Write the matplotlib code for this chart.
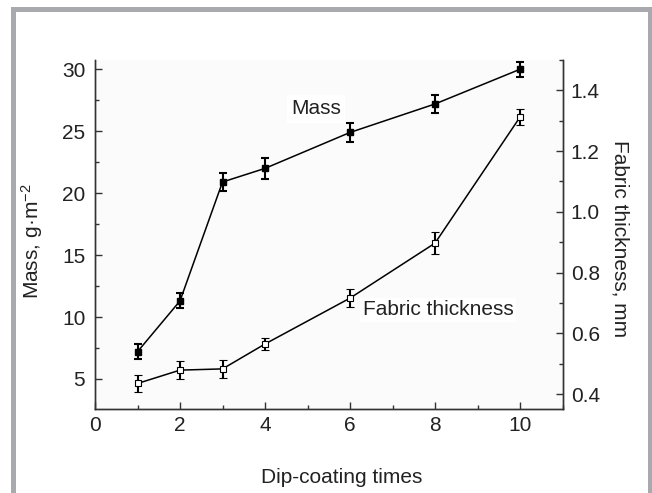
import matplotlib.pyplot as plt
from matplotlib.patches import Rectangle
from matplotlib.ticker import MultipleLocator

plt.rcParams['font.family'] = ['Liberation Sans', 'DejaVu Sans']
plt.rcParams['mathtext.fontset'] = 'custom'
plt.rcParams['mathtext.rm'] = 'Liberation Sans'
plt.rcParams['mathtext.it'] = 'Liberation Sans'

times = [1, 2, 3, 4, 6, 8, 10]
mass = [7.2, 11.3, 20.9, 22.0, 24.9, 27.2, 30.0]
mass_err = [0.62, 0.6, 0.71, 0.83, 0.74, 0.7, 0.62]
thickness = [0.435, 0.479, 0.483, 0.565, 0.716, 0.897, 1.312]
thickness_err = [0.029, 0.029, 0.029, 0.02, 0.03, 0.036, 0.027]

FS = 15

fig = plt.figure(figsize=(6.52, 4.93), dpi=100)
fig.patch.set_facecolor('white')

# grey frame round the figure (open at the bottom)
fig.patches.append(Rectangle((13.5 / 652, -0.05), (650 - 13.5) / 652, 1.05 - 9.5 / 493,
                             transform=fig.transFigure, fill=False,
                             edgecolor='#a9aaad', linewidth=3.6, zorder=0))

ax1 = fig.add_axes([95 / 652, 1 - 409.3 / 493, (562.5 - 95) / 652, (409.3 - 60) / 493])
ax1.set_facecolor('#fbfbfb')
ax2 = ax1.twinx()

ax1.errorbar(times, mass, yerr=mass_err, color='black', marker='s', markersize=5,
             markerfacecolor='black', linewidth=1.1, elinewidth=1.5, capsize=3, capthick=1.5)
ax2.errorbar(times, thickness, yerr=thickness_err, color='black', marker='s', markersize=5,
             markerfacecolor='white', markeredgewidth=0.8, linewidth=1.1, elinewidth=1.5,
             capsize=3, capthick=1.5)

ax1.set_xlim(0, 11)
ax1.set_ylim(2.55, 30.75)
ax2.set_ylim(0.35, 1.5)

ax1.xaxis.set_major_locator(MultipleLocator(2))
ax1.xaxis.set_minor_locator(MultipleLocator(1))
ax1.yaxis.set_major_locator(MultipleLocator(5))
ax1.yaxis.set_minor_locator(MultipleLocator(2.5))
ax2.yaxis.set_major_locator(MultipleLocator(0.2))
ax2.yaxis.set_minor_locator(MultipleLocator(0.1))

for ax in (ax1, ax2):
    ax.spines['top'].set_visible(False)
    for s in ax.spines.values():
        s.set_linewidth(1.0)
        s.set_color('#333333')
    ax.tick_params(which='major', direction='in', length=5, width=1.0, labelsize=FS,
                   color='#333333', labelcolor='#222222')
    ax.tick_params(which='minor', direction='in', length=3, width=1.0, color='#333333')

ax1.tick_params(axis='y', pad=7)
ax1.tick_params(axis='x', pad=5)
ax2.tick_params(axis='y', pad=6)
ax2.yaxis.set_major_formatter(plt.FuncFormatter(lambda v, p: f'{v:.1f}'))

ax1.set_xlabel('Dip-coating times', fontsize=FS, color='#222222')
ax1.xaxis.set_label_coords(0.528, -0.168)
ax1.set_ylabel('Mass, g·m$^{-2}$', fontsize=FS, color='#222222')
ax1.yaxis.set_label_coords(-0.107, 0.48)
ax2.set_ylabel('Fabric thickness, mm', fontsize=FS, color='#222222', rotation=270, va='center')
ax2.yaxis.set_label_coords(1.123, 0.49)

ax2.text(5.2, 26.8, 'Mass', transform=ax1.transData, fontsize=FS, color='#222222',
         ha='center', va='center', bbox=dict(facecolor='white', edgecolor='none', pad=3))
ax2.text(8.08, 10.57, 'Fabric thickness', transform=ax1.transData, fontsize=FS,
         color='#222222', ha='center', va='center',
         bbox=dict(facecolor='white', edgecolor='none', pad=2))

fig.savefig('out.png', dpi=100)
